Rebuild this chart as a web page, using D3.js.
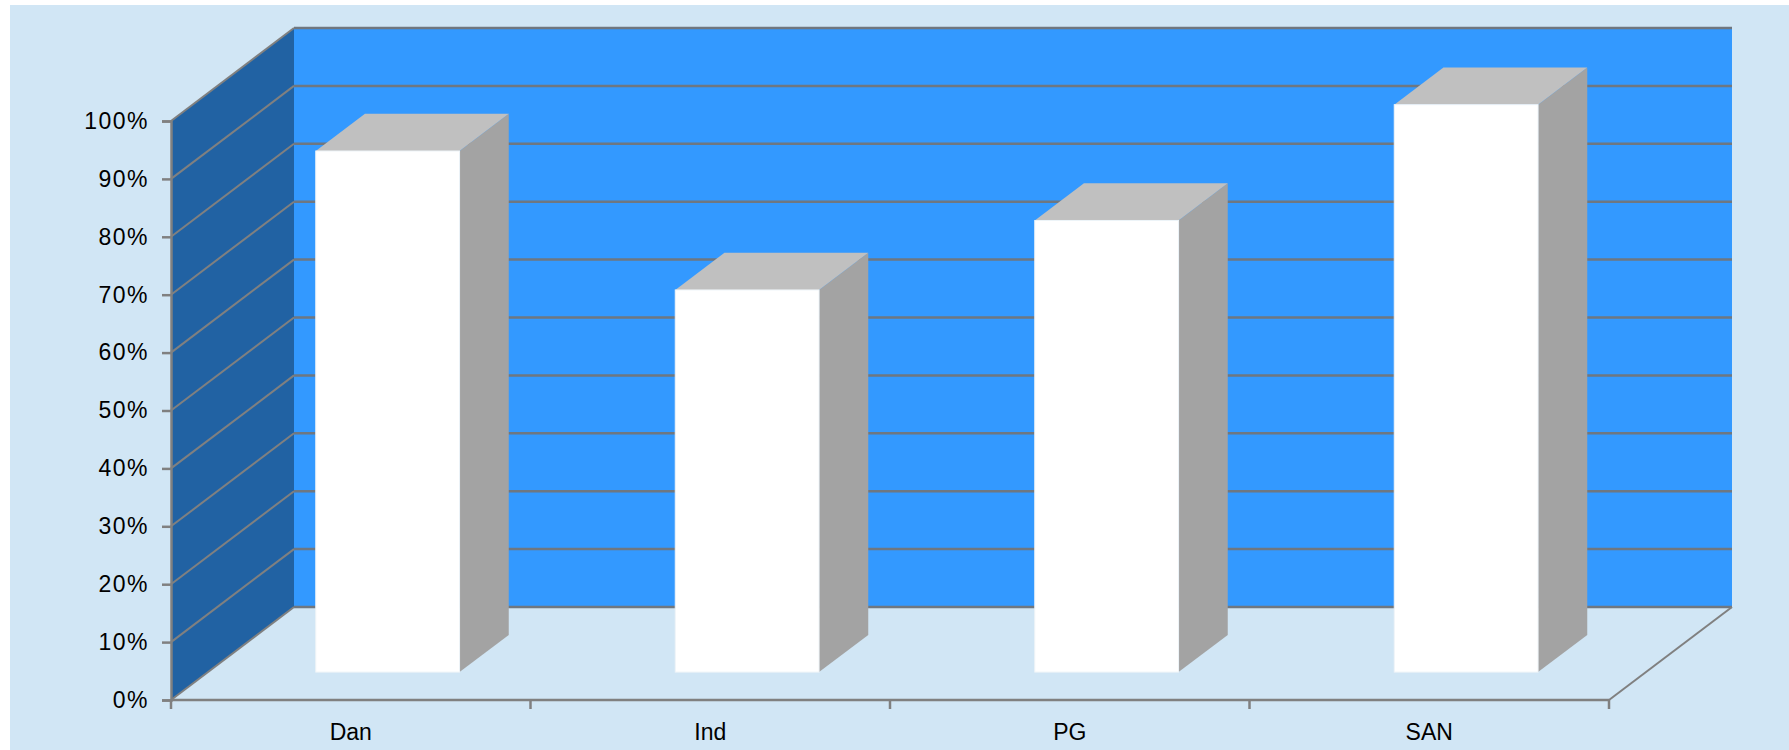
<!DOCTYPE html>
<html>
<head>
<meta charset="utf-8">
<script src="https://cdn.jsdelivr.net/npm/d3@7"></script>
<style>
  html, body { margin: 0; padding: 0; background: #ffffff; }
  svg { display: block; }
  text { font-family: "Liberation Sans", Arial, sans-serif; fill: #000; }
</style>
</head>
<body>
<script>
// ---- data ----
const categories = ["Dan", "Ind", "PG", "SAN"];
const values = [0.90, 0.66, 0.78, 0.98];
const yTicks = [0, 0.1, 0.2, 0.3, 0.4, 0.5, 0.6, 0.7, 0.8, 0.9, 1.0];

// ---- layout ----
const W = 1789, H = 750;
const frontLeft = 171, frontRight = 1609;
const yBottom = 700, yTop = 121;
const depthDX = 123, depthDY = -93;   // full depth offset
const barDepth0 = 0.3, barDepth1 = 0.7;

const svg = d3.select("body").append("svg").attr("width", W).attr("height", H);

// background
svg.append("rect").attr("x", 10).attr("y", 5).attr("width", W - 10).attr("height", H - 5)
  .attr("fill", "#D1E6F5");

const x = d3.scaleBand().domain(categories).range([frontLeft, frontRight])
  .paddingInner(0.6).paddingOuter(0.3);
const y = d3.scaleLinear().domain([0, 1]).range([yBottom, yTop]);
const z = d3.scaleLinear().domain([0, 1]).range([0, 1]);

function P(px, py, d) { return [px + depthDX * z(d), py + depthDY * z(d)]; }
const line = d3.line();

// back wall
const bw0 = P(frontLeft, y(1), 1), bw1 = P(frontRight, y(0), 1);
svg.append("rect").attr("x", bw0[0]).attr("y", bw0[1])
  .attr("width", bw1[0] - bw0[0]).attr("height", bw1[1] - bw0[1])
  .attr("fill", "#3399FF");

// side wall
svg.append("path")
  .attr("d", line([P(frontLeft, y(0), 0), P(frontLeft, y(1), 0), P(frontLeft, y(1), 1), P(frontLeft, y(0), 1)]) + "Z")
  .attr("fill", "#2162A3");

// gridlines on back wall
svg.append("g").selectAll("path").data(yTicks).join("path")
  .attr("d", t => line([P(frontLeft, y(t), 1), P(frontRight, y(t), 1)]))
  .attr("stroke", "#6F7780").attr("stroke-width", 2.5).attr("fill", "none");

// gridlines on side wall
svg.append("g").selectAll("path").data(yTicks).join("path")
  .attr("d", t => line([P(frontLeft, y(t), 0), P(frontLeft, y(t), 1)]))
  .attr("stroke", "#808080").attr("stroke-width", 2).attr("fill", "none");

// floor edges
svg.append("path")
  .attr("d", line([P(frontRight, y(0), 0), P(frontRight, y(0), 1)]))
  .attr("stroke", "#808080").attr("stroke-width", 2).attr("fill", "none");

// bars
const bars = svg.append("g").selectAll("g").data(categories.map((c, i) => ({ c, v: values[i] }))).join("g");
bars.each(function(d) {
  const g = d3.select(this);
  const xl = x(d.c), xr = x(d.c) + x.bandwidth();
  const yb = y(0), yt = y(d.v);
  // side face
  g.append("path")
    .attr("d", line([P(xr, yb, barDepth0), P(xr, yt, barDepth0), P(xr, yt, barDepth1), P(xr, yb, barDepth1)]) + "Z")
    .attr("fill", "#A3A3A3");
  // top face
  g.append("path")
    .attr("d", line([P(xl, yt, barDepth0), P(xr, yt, barDepth0), P(xr, yt, barDepth1), P(xl, yt, barDepth1)]) + "Z")
    .attr("fill", "#C0C0C0");
  // front face
  const f0 = P(xl, yt, barDepth0), f1 = P(xr, yb, barDepth0);
  g.append("rect").attr("x", f0[0]).attr("y", f0[1])
    .attr("width", f1[0] - f0[0]).attr("height", f1[1] - f0[1])
    .attr("fill", "#FFFFFF").attr("stroke", "#EEF4F8").attr("stroke-width", 1);
});

// y axis
const yAxis = d3.axisLeft(y).tickValues(yTicks).tickFormat(d3.format(".0%"))
  .tickSize(9).tickPadding(13);
const yg = svg.append("g").attr("transform", `translate(${frontLeft},0)`).call(yAxis);
yg.select(".domain").attr("stroke", "#808080").attr("stroke-width", 2.5);
yg.selectAll(".tick line").attr("stroke", "#808080").attr("stroke-width", 2.5);
yg.selectAll(".tick text").attr("font-size", 23).attr("font-family", "Liberation Sans, Arial, sans-serif")
  .attr("letter-spacing", "1.5px").attr("fill", "#000");

// x axis
const step = x.step();
const boundaries = categories.map(c => x(c) - x.paddingOuter() * step).concat([frontRight]);
const xg = svg.append("g");
xg.append("path").attr("d", line([[frontLeft, y(0)], [frontRight, y(0)]]))
  .attr("stroke", "#808080").attr("stroke-width", 2.5).attr("fill", "none");
xg.selectAll("line.tk").data(boundaries).join("line").attr("class", "tk")
  .attr("x1", d => d).attr("x2", d => d).attr("y1", y(0)).attr("y2", y(0) + 9)
  .attr("stroke", "#808080").attr("stroke-width", 2.5);
xg.selectAll("text").data(categories).join("text")
  .attr("x", c => x(c) + x.bandwidth() / 2).attr("y", y(0) + 40)
  .attr("text-anchor", "middle").attr("font-size", 23)
  .text(c => c);
</script>
</body>
</html>
